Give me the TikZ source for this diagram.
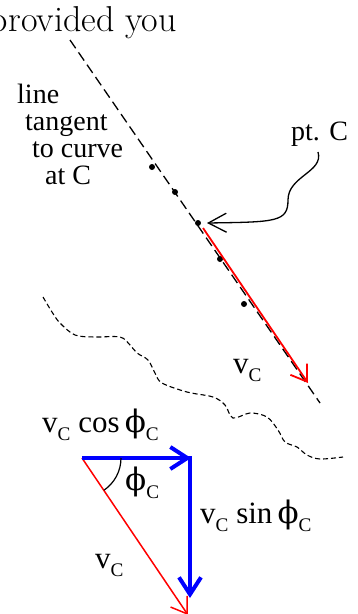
\documentclass[tikz,border=0pt]{standalone}
\usepackage{graphicx}
\usepackage{fontspec}
\setmainfont{Liberation Serif}
\newfontfamily\lmfont{Latin Modern Roman}
\newfontfamily\phifont{DejaVu Serif}
\usetikzlibrary{arrows.meta}
\newcommand\Csub{\raisebox{-0.26em}{\scalebox{0.62}{C}}}
\newcommand\myphi{{\phifont ϕ}}
\begin{document}
\begin{tikzpicture}[x=1pt,y=-1pt,
  lbl/.style={inner sep=0pt, anchor=base west, font=\fontsize{28}{28}\selectfont},
  mlbl/.style={inner sep=0pt, anchor=base west, font=\fontsize{31}{31}\selectfont},
  tangentline/.style={line width=1.3pt, dash pattern=on 10pt off 5pt},
  curveline/.style={line width=1.1pt, dash pattern=on 5pt off 3pt},
  redvec/.style={red, line width=1.8pt, -{Straight Barb[length=15pt,width=20pt,line width=1.8pt]}},
  bluevec/.style={blue, line width=4pt, -{Straight Barb[length=17pt,width=22pt,line width=4pt]}},
  pointer/.style={line width=1.3pt, -{Straight Barb[length=18pt,width=19pt,line width=1.3pt]}},
  dotc/.style={circle, fill, inner sep=0pt, minimum size=6pt}]
\useasboundingbox (0,0) rectangle (357,614);

% top text
\node[inner sep=0pt, anchor=base east, font=\lmfont\fontsize{36}{36}\selectfont] (prov) at (177,31) {provided you};

% tangent line and points
\coordinate (T1) at (70,40);
\coordinate (T2) at (320,403);
\draw[tangentline] (T1) -- (T2);
\node[dotc] (d1) at (152,167) {};
\node[dotc] (d2) at (175,192) {};
\node[dotc] (C) at (198,223) {};
\node[dotc] (d3) at (220,259) {};
\node[dotc] (d4) at (244,304) {};

% labels
\node[lbl] (t1) at (17,103) {line};
\node[lbl] (t2) at (25,130) {tangent};
\node[lbl] (t3) at (32,157) {to curve};
\node[lbl] (t4) at (45,184) {at C};
\node[lbl] (ptc) at (291,140) {pt. C};

% pointer to C
\coordinate (cs) at (318,152);
\coordinate (ce) at (207,223);
\draw[pointer] (cs) .. controls (324,172) and (288,176) .. (288,200)
  .. controls (288,222) and (276,222) .. (ce);

% velocity vector along tangent
\coordinate (vs) at (203,228);
\coordinate (ve) at (308,383);
\draw[redvec] (vs) -- (ve);
\node[mlbl] (vc1) at (233,373) {v\Csub};

% dashed path curve
\draw[curveline] plot[smooth, tension=0.55] coordinates {
  (43,297) (52,312) (60,323) (75,335) (95,337) (120,337) (130,345) (137,353)
  (148,360) (155,373) (162,383) (187,392) (213,397) (225,405) (233,418)
  (250,413) (267,417) (278,430) (285,442) (297,447) (307,455) (320,459) (343,457)};

% component triangle
\coordinate (O) at (82,458);
\coordinate (H) at (191,458);
\coordinate (Vt) at (190,456);
\coordinate (Vb) at (190,598);
\coordinate (R) at (188,615);
\draw[red, line width=1.5pt, -{Straight Barb[length=15pt,width=20pt,line width=1.5pt]}] (O) -- (R);
\draw[bluevec] (O) -- (H);
\draw[bluevec] (Vt) -- (Vb);
\draw[line width=1.2pt] (O) ++(0:39) arc[start angle=0, end angle=-55.6, radius=39pt];

\node[mlbl] (cosl) at (42,432) {v\Csub\ cos\,\myphi\Csub};
\node[mlbl] (sinl) at (200,523) {v\Csub\ sin\,\myphi\Csub};
\node[mlbl] (phil) at (125,490) {\myphi\Csub};
\node[mlbl] (vc2) at (95,568) {v\Csub};
\end{tikzpicture}
\end{document}
